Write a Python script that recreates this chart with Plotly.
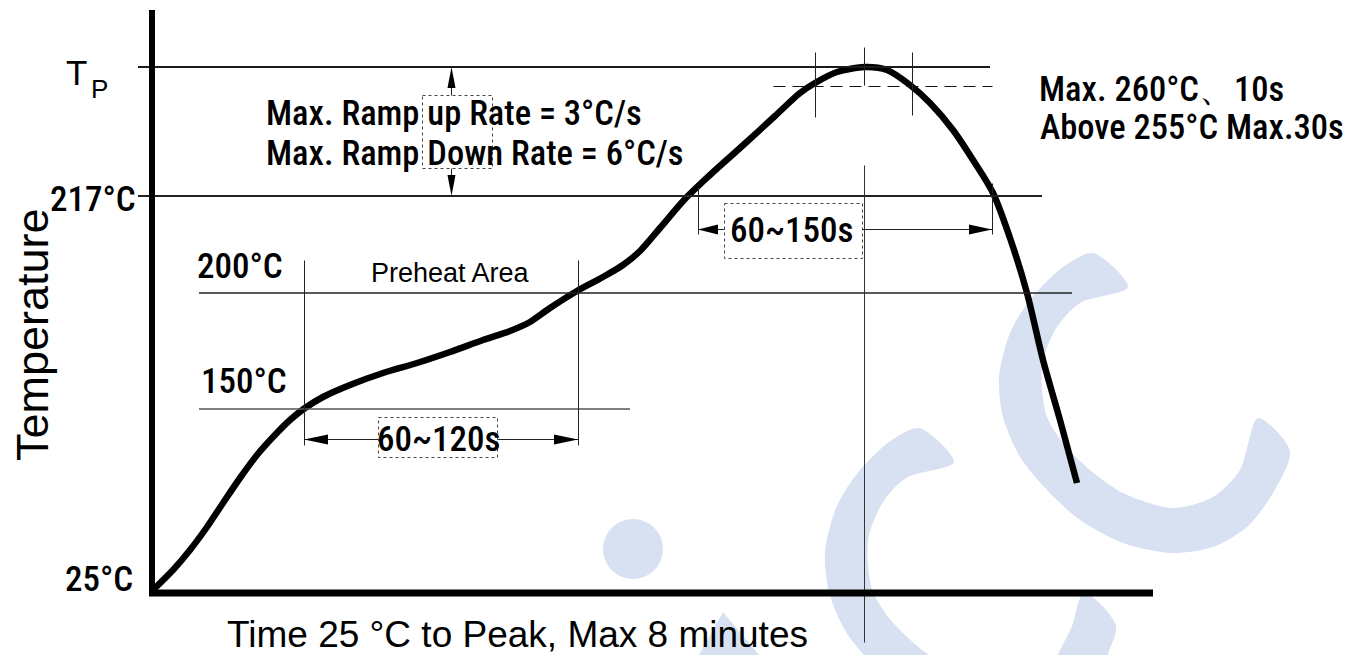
import plotly.graph_objects as go

# ---------------- data (schematic drawing units: x = time axis, y = height, top-down) ----------------
curve_x = [154, 173, 190, 207, 223, 240, 257, 273, 290, 305, 323, 350, 383, 417, 450, 483, 510, 530,
           550, 577, 603, 623, 640, 660, 685, 710, 740, 775, 800, 815, 837, 865, 887, 910, 930,
           953, 973, 993, 1010, 1027, 1043, 1060, 1077]
curve_y = [589, 570, 550, 527, 503, 478, 455, 437, 420, 408, 397, 385, 373, 363, 352, 340, 331, 322,
           308, 291, 277, 265, 251, 228, 199, 175, 148, 116, 93, 83, 72, 67, 70, 85, 103,
           130, 160, 193, 238, 293, 360, 420, 483]

level_names = ["TP", "217°C", "200°C", "150°C", "25°C"]
level_y = [67, 196, 293, 409]
level_x0 = [138, 138, 199, 199]
level_x1 = [990, 1042, 1072, 630]

peak_band_y = 86          # 255°C dashed level
peak_band_x = [773, 992]

preheat_x = [304, 578]    # 60~120s window
reflow_x = [698, 992]     # 60~150s window
peak_marks_x = [815, 864, 912]

labels_rate = ["Max. Ramp up Rate = 3°C/s", "Max. Ramp Down Rate = 6°C/s"]
labels_peak = ["Max. 260°C、10s", "Above 255°C Max.30s"]
labels_time = ["60~120s", "60~150s"]
axis_titles = ["Temperature", "Time 25 °C to Peak, Max 8 minutes"]

# watermark outline (light-blue logo)
wm_outer_x = [1093, 1063, 1030, 1010, 999, 1003, 1020, 1047, 1080, 1123, 1172, 1213, 1247, 1273, 1290]
wm_outer_y = [253, 267, 300, 333, 377, 417, 457, 490, 520, 543, 553, 547, 527, 493, 451]
wm_inner_x = [1258, 1240, 1213, 1172, 1123, 1090, 1063, 1047, 1042, 1043, 1057, 1080, 1128]
wm_inner_y = [418, 470, 497, 508, 493, 470, 443, 417, 390, 360, 327, 303, 287]
wm_offsets = [(0, 0), (-174, 175)]

NARROW = "Roboto Condensed, Liberation Sans Narrow, DejaVu Sans Condensed, sans-serif"
REG = "Liberation Sans, Arial, sans-serif"
WM = "#d8e1f2"

fig = go.Figure()
shapes = []
annotations = []

# ---- watermark ----
for dx, dy in wm_offsets:
    xs = [x + dx for x in wm_outer_x] + [x + dx for x in wm_inner_x] + [wm_outer_x[0] + dx]
    ys = [y + dy for y in wm_outer_y] + [y + dy for y in wm_inner_y] + [wm_outer_y[0] + dy]
    fig.add_trace(go.Scatter(x=xs, y=ys, mode="lines", fill="toself", fillcolor=WM,
                             line=dict(width=0, color=WM, shape="spline", smoothing=0.8),
                             hoverinfo="skip"))
fig.add_trace(go.Scatter(x=[1087, 1116, 1104, 1050, 1087], y=[597, 625, 670, 670, 597], mode="lines",
                         fill="toself", fillcolor=WM, line=dict(width=0, color=WM), hoverinfo="skip"))
fig.add_trace(go.Scatter(x=[723, 765, 695, 723], y=[612, 662, 662, 612], mode="lines",
                         fill="toself", fillcolor=WM, line=dict(width=0, color=WM), hoverinfo="skip"))
shapes.append(dict(type="circle", xref="x", yref="y", x0=603, x1=663, y0=519, y1=579,
                   fillcolor=WM, line=dict(width=0), layer="below"))


def seg(x0, y0, x1, y1, color="#222", width=1.0, dash=None):
    ln = dict(color=color, width=width)
    if dash:
        ln["dash"] = dash
    off = 0.5 if width <= 1.2 else 0.0
    shapes.append(dict(type="line", xref="x", yref="y", x0=x0 + off, y0=y0 + off,
                       x1=x1 + off, y1=y1 + off, line=ln))


def head(tx, ty, ux, uy, L=22, w=5):
    bx, by = tx - L * ux, ty - L * uy
    px, py = -uy, ux
    path = f"M {tx},{ty} L {bx + w * px},{by + w * py} L {bx - w * px},{by - w * py} Z"
    shapes.append(dict(type="path", xref="x", yref="y", path=path, fillcolor="#000",
                       line=dict(width=0)))


def box(x0, y0, x1, y1):
    shapes.append(dict(type="rect", xref="x", yref="y", x0=x0 + 0.5, y0=y0 + 0.5, x1=x1 + 0.5, y1=y1 + 0.5,
                       line=dict(color="#444", width=1, dash="dot"), fillcolor="rgba(0,0,0,0)"))


# ---- level lines ----
widths = [2, 2, 1.5, 1.5]
colors = ["#1a1a1a", "#222", "#222", "#555"]
for y, x0, x1, w, c in zip(level_y, level_x0, level_x1, widths, colors):
    seg(x0, y, x1, y, color=c, width=w)
seg(peak_band_x[0], peak_band_y, peak_band_x[1], peak_band_y, color="#111", width=1.0, dash="12px,7px")

# ---- vertical marks ----
for x in preheat_x:
    seg(x, 260, x, 445, color="#222", width=1)
seg(reflow_x[0], 187, reflow_x[0], 234, color="#222", width=1)
seg(reflow_x[1], 183, reflow_x[1], 234, color="#222", width=1)
seg(peak_marks_x[0], 52, peak_marks_x[0], 117, color="#222", width=1)
seg(peak_marks_x[1], 47, peak_marks_x[1], 85, color="#222", width=1)
seg(peak_marks_x[2], 52, peak_marks_x[2], 115, color="#222", width=1)
seg(peak_marks_x[1], 165, peak_marks_x[1], 642, color="#333", width=1)

# ---- 60~120s dimension ----
seg(preheat_x[0], 439, 378, 439)
seg(497, 439, preheat_x[1], 439)
head(preheat_x[0], 439.5, -1, 0, L=24, w=5)
head(preheat_x[1], 439.5, 1, 0, L=24, w=5)
box(378, 417, 497, 457)

# ---- 60~150s dimension ----
seg(reflow_x[0], 229, 724, 229)
seg(862, 229, reflow_x[1], 229)
head(reflow_x[0], 229.5, -1, 0, L=20, w=5)
head(reflow_x[1], 229.5, 1, 0, L=23, w=5)
box(724, 203, 862, 258)

# ---- ramp-rate vertical dimension ----
seg(451, 85, 451, 95)
seg(451, 168, 451, 178)
head(451.5, level_y[0], 0, -1, L=21, w=4)
head(451.5, level_y[1], 0, 1, L=21, w=4)
box(422, 95, 492, 168)

# ---- axes ----
seg(152, 10, 152, 596, color="#000", width=6)
seg(149, 593, 1153, 593, color="#000", width=7)

# ---- profile curve ----
fig.add_trace(go.Scatter(x=curve_x, y=curve_y, mode="lines",
                         line=dict(color="#000", width=6.5, shape="spline", smoothing=0.8),
                         hoverinfo="skip"))


def txt(x, y, s, size, family=NARROW, xanchor="left", angle=0, weight=500):
    annotations.append(dict(x=x, y=y, xref="x", yref="y", text=s, showarrow=False,
                            xanchor=xanchor, yanchor="middle", textangle=angle,
                            font=dict(family=family, size=size, color="#000", weight=weight)))


txt(76, 72, "T", 35, REG, "center", weight=400)
txt(99, 89, "P", 26, REG, "center", weight=400)
txt(138, 199, level_names[1], 35, NARROW, "right")
txt(195, 266, level_names[2], 35)
txt(199, 381, level_names[3], 35)
txt(63, 579, level_names[4], 35)
txt(32, 335, axis_titles[0], 45, REG, "center", -90, weight=400)
txt(450, 273, "Preheat Area", 27, REG, "center", weight=400)
txt(264, 113, labels_rate[0], 34.5)
txt(264, 153, labels_rate[1], 34.5)
txt(1037, 89, labels_peak[0], 34.5)
txt(1038, 127, labels_peak[1], 34.5)
txt(791, 230, labels_time[1], 35, NARROW, "center")
txt(438, 439, labels_time[0], 35, NARROW, "center")
txt(517, 634, axis_titles[1], 37, REG, "center", weight=400)

fig.update_layout(
    width=1350, height=655, autosize=False,
    margin=dict(l=0, r=0, t=0, b=0, pad=0),
    paper_bgcolor="white", plot_bgcolor="white",
    showlegend=False,
    xaxis=dict(range=[0, 1350], visible=False, fixedrange=True),
    yaxis=dict(range=[655, 0], visible=False, fixedrange=True),
    shapes=shapes, annotations=annotations,
)

fig.write_html("out.html", config={"displayModeBar": False},
               post_script="document.body.style.margin='0';document.body.style.padding='0';")
